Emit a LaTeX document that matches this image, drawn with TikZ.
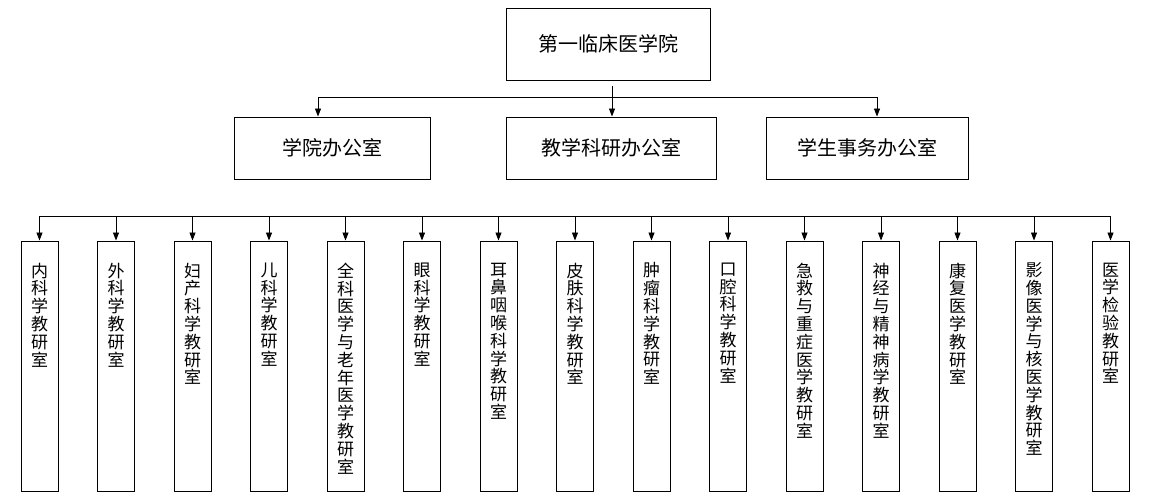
\documentclass[tikz,border=0pt]{standalone}
\usepackage{fontspec}
\newfontfamily\cjk{Noto Sans CJK SC}
\usepackage{tikz}
\usetikzlibrary{arrows.meta, positioning}
\tikzset{
  topbox/.style={draw, line width=0.9pt, minimum width=204pt, minimum height=72pt, inner sep=0pt, font=\cjk\fontsize{20}{22}\selectfont},
  office/.style={draw, line width=0.9pt, minimum height=62pt, inner sep=0pt, font=\cjk\fontsize{20}{22}\selectfont},
  deptbox/.style={draw, line width=0.9pt, minimum width=37pt, minimum height=250pt, inner sep=0pt},
  depttext/.style={anchor=north, align=center, inner sep=0pt, font=\cjk\fontsize{17}{17.8}\selectfont},
  link/.style={-{Triangle[length=8pt, width=6pt]}, line width=0.9pt},
  bus/.style={line width=0.9pt}
}
\newcommand{\dept}[3]{%
  \coordinate (#2-in) at (#1,284);
  \node[deptbox] (#2) at (#1,134) {};
  \node[depttext] (#2-t) at ([yshift=-22pt]#2.north) {#3};
  \draw[link] (#2-in) -- (#2.north);
}

\begin{document}
\begin{tikzpicture}[x=1pt, y=1pt]
        \useasboundingbox (0,0) rectangle (1150,500);

        % College
        \node[topbox] (college) at (608,456) {第一临床医学院};

        % Offices
        \node[office, minimum width=196pt] (xybgs) at (332,352) {学院办公室};
        \node[office, minimum width=210pt] (jxky)  at (611,352) {教学科研办公室};
        \node[office, minimum width=202pt] (xssw)  at (867,352) {学生事务办公室};

        % College -> offices
        \coordinate (root-out) at (612,414);
        \coordinate (fork)     at (612,403);
        \coordinate (fork-l)   at (318,403);
        \coordinate (fork-r)   at (877,403);
        \draw[bus] (fork-l) -- (fork-r);
        \draw[link] (root-out) -- (root-out |- jxky.north);
        \draw[link] (fork-l) -- (fork-l |- xybgs.north);
        \draw[link] (fork-r) -- (fork-r |- xssw.north);

        % Teaching and research sections
        \dept{39.5}{neike}{内\\科\\学\\教\\研\\室}
        \dept{116}{waike}{外\\科\\学\\教\\研\\室}
        \dept{192.5}{fuchan}{妇\\产\\科\\学\\教\\研\\室}
        \dept{269}{erke}{儿\\科\\学\\教\\研\\室}
        \dept{345.5}{quanke}{全\\科\\医\\学\\与\\老\\年\\医\\学\\教\\研\\室}
        \dept{422}{yanke}{眼\\科\\学\\教\\研\\室}
        \dept{498.5}{ebyh}{耳\\鼻\\咽\\喉\\科\\学\\教\\研\\室}
        \dept{575}{pifu}{皮\\肤\\科\\学\\教\\研\\室}
        \dept{651.5}{zhongliu}{肿\\瘤\\科\\学\\教\\研\\室}
        \dept{728}{kouqiang}{口\\腔\\科\\学\\教\\研\\室}
        \dept{804.5}{jijiu}{急\\救\\与\\重\\症\\医\\学\\教\\研\\室}
        \dept{881}{shenjing}{神\\经\\与\\精\\神\\病\\学\\教\\研\\室}
        \dept{957.5}{kangfu}{康\\复\\医\\学\\教\\研\\室}
        \dept{1034}{yingxiang}{影\\像\\医\\学\\与\\核\\医\\学\\教\\研\\室}
        \dept{1110.5}{jianyan}{医\\学\\检\\验\\教\\研\\室}

        % Section bus
        \draw[bus] (neike-in) -- (jianyan-in);
\end{tikzpicture}
\end{document}
